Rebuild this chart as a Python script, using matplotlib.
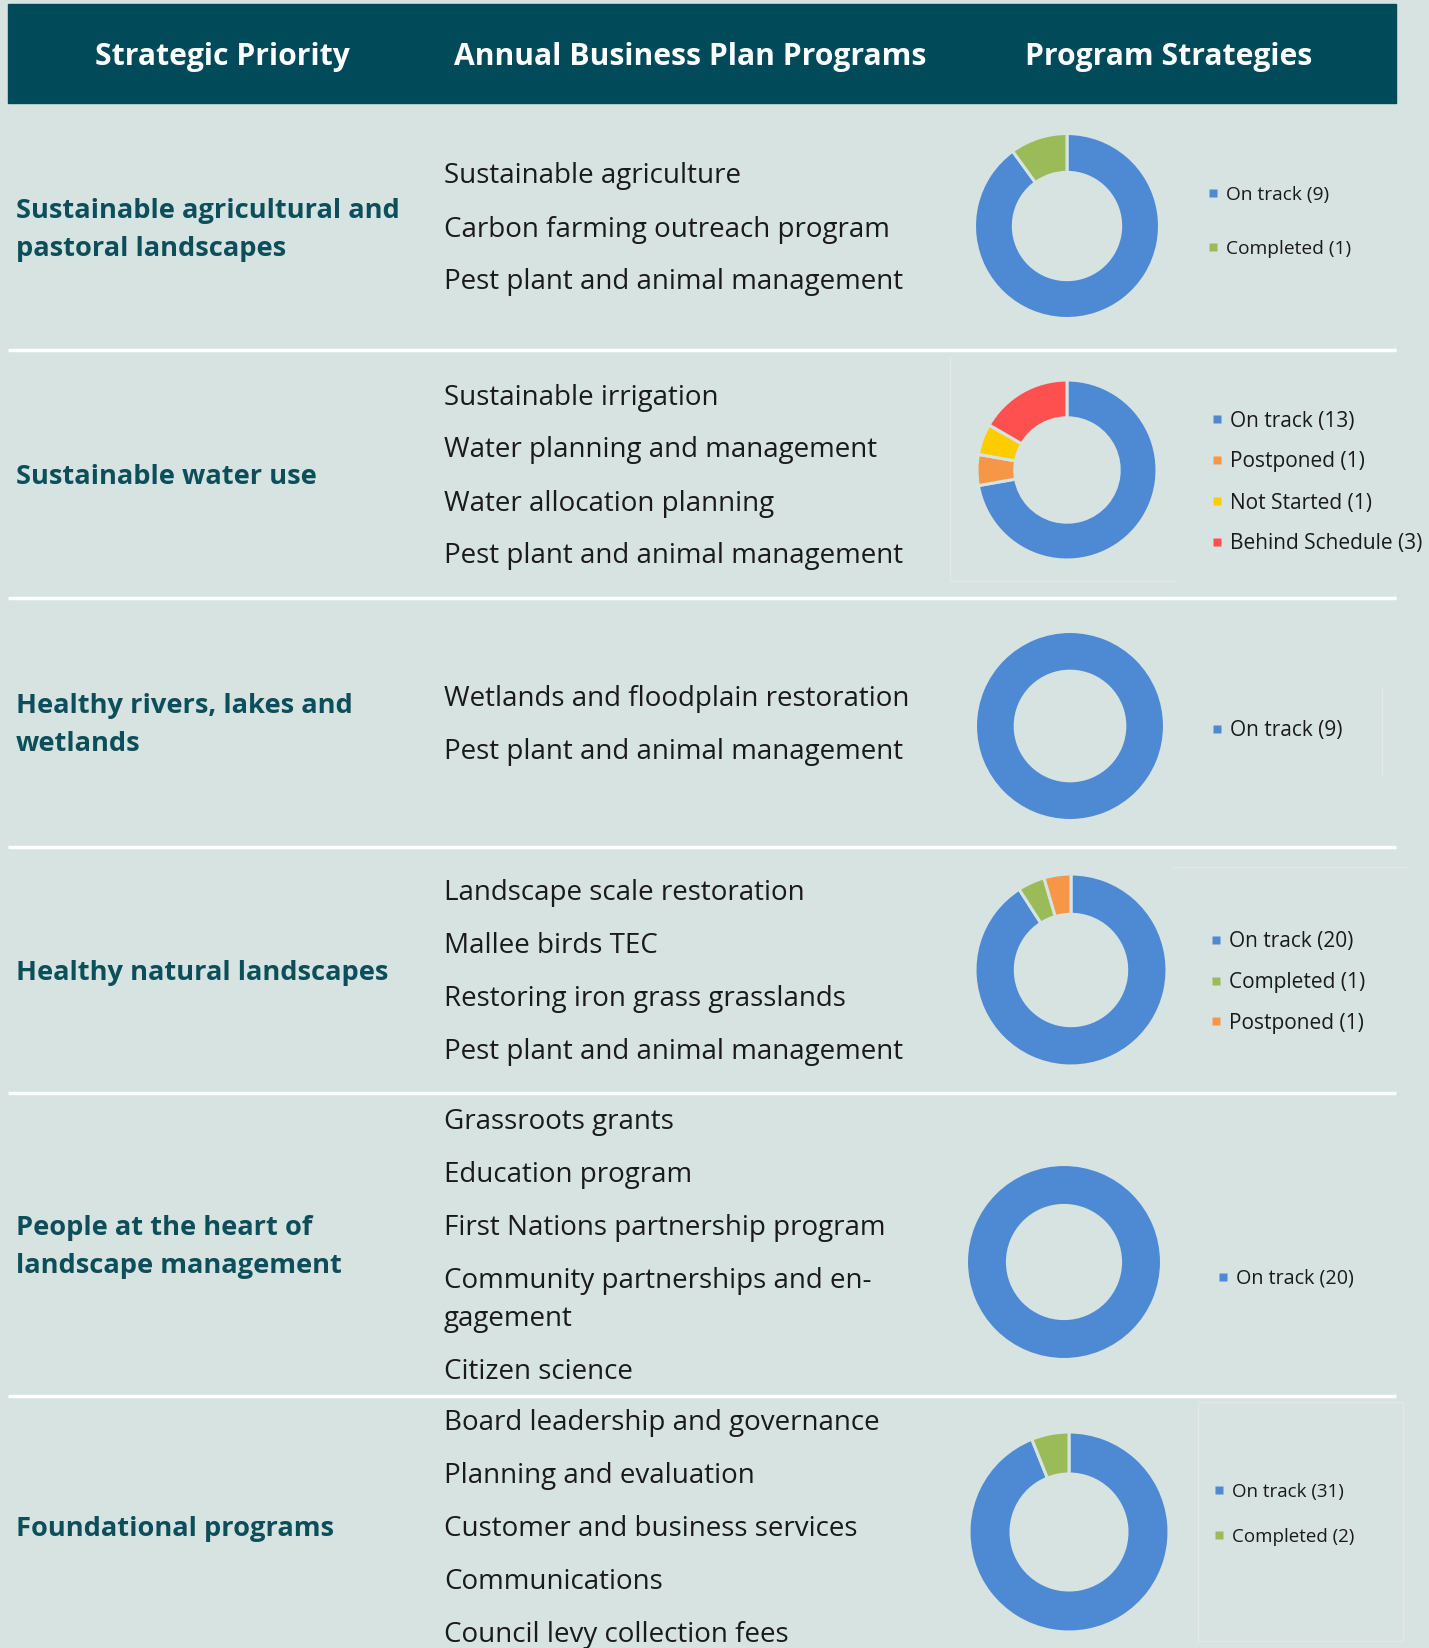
import matplotlib.pyplot as plt
from matplotlib.patches import Rectangle

plt.rcParams['font.family'] = ['Open Sans', 'DejaVu Sans']

W, H = 1429, 1649
BG = '#d6e3e0'
HEADER = '#004a59'
TEAL = '#0d4e5b'
TEXT = '#1a1a1a'
FAINT = '#e2e8e7'

headers = ['Strategic Priority', 'Annual Business Plan Programs', 'Program Strategies']

priorities = ['Sustainable agricultural and\npastoral landscapes',
              'Sustainable water use',
              'Healthy rivers, lakes and\nwetlands',
              'Healthy natural landscapes',
              'People at the heart of\nlandscape management',
              'Foundational programs']

programs = [
    ['Sustainable agriculture', 'Carbon farming outreach program',
     'Pest plant and animal management'],
    ['Sustainable irrigation', 'Water planning and management',
     'Water allocation planning', 'Pest plant and animal management'],
    ['Wetlands and floodplain restoration', 'Pest plant and animal management'],
    ['Landscape scale restoration', 'Mallee birds TEC',
     'Restoring iron grass grasslands', 'Pest plant and animal management'],
    ['Grassroots grants', 'Education program', 'First Nations partnership program',
     'Community partnerships and en-\ngagement', 'Citizen science'],
    ['Board leadership and governance', 'Planning and evaluation',
     'Customer and business services', 'Communications', 'Council levy collection fees'],
]

status_labels = [
    ['On track', 'Completed'],
    ['On track', 'Postponed', 'Not Started', 'Behind Schedule'],
    ['On track'],
    ['On track', 'Completed', 'Postponed'],
    ['On track'],
    ['On track', 'Completed'],
]
status_counts = [[9, 1], [13, 1, 1, 3], [9], [20, 1, 1], [20], [31, 2]]

status_colors = {'On track': '#4e8ad4', 'Completed': '#9bbb59', 'Postponed': '#f79646',
                 'Not Started': '#ffcc00', 'Behind Schedule': '#ff5050'}

# layout (pixels, y from top)
row_edges = [104, 351, 599, 848, 1094, 1397, 1657]
donut_cx = [1067, 1067, 1070, 1071, 1064, 1069]
donut_cy = [227, 471, 727, 971, 1263, 1533]
donut_r = [92.5, 90, 94.5, 96, 97.5, 100]
legend_x = [1213, 1217, 1217, 1216, 1223, 1219]
legend_y0 = [194, 420, 730, 941, 1278, 1491]
legend_step = [54, 41, 0, 40.5, 0, 45]
legend_fs = [13.8, 15, 15, 15, 14.2, 13.5]

fig = plt.figure(figsize=(W / 100, H / 100), dpi=100, facecolor=BG)
bg = fig.add_axes([0, 0, 1, 1])
bg.set_xlim(0, W)
bg.set_ylim(H, 0)
bg.axis('off')

# header band
bg.add_patch(Rectangle((8, 5), 1388, 99, color=HEADER, zorder=1))
for x, t in zip([222, 690, 1169], headers):
    bg.text(x, 57, t, color='white', fontsize=21.7, fontweight='bold',
            ha='center', va='center', zorder=2)

# faint chart-area borders left over from the source
bg.plot([950, 950, 1177], [357, 582, 582], color=FAINT, lw=1)
bg.plot([1382, 1382], [689, 778], color=FAINT, lw=1)
bg.plot([1173, 1407], [868, 868], color=FAINT, lw=1)
bg.add_patch(Rectangle((1198, 1403), 205, 239, fill=False, ec=FAINT, lw=1))

# separators
for y in row_edges[1:-1]:
    bg.plot([8, 1396], [y, y], color='white', lw=2.5, solid_capstyle='butt')

for i in range(len(priorities)):
    mid = (row_edges[i] + row_edges[i + 1]) / 2

    # strategic priority label
    lines = priorities[i].split('\n')
    for k, ln in enumerate(lines):
        y = mid + 2 + (k - (len(lines) - 1) / 2) * 38
        bg.text(16, y, ln, color=TEAL, fontsize=19.6, fontweight='bold',
                ha='left', va='center')

    # program list
    items = programs[i]
    extra = sum(p.count('\n') for p in items)
    block = (len(items) - 1) * 53 + extra * 38
    y = mid - block / 2 + 2
    for p in items:
        for k, ln in enumerate(p.split('\n')):
            bg.text(444, y, ln, color=TEXT, fontsize=20, ha='left', va='center')
            if k < p.count('\n'):
                y += 38
        y += 53

    # donut
    cx, cy, r = donut_cx[i], donut_cy[i], donut_r[i]
    ax = fig.add_axes([(cx - r) / W, 1 - (cy + r) / H, 2 * r / W, 2 * r / H])
    cols = [status_colors[s] for s in status_labels[i]]
    ax.pie(status_counts[i], colors=cols, startangle=90, counterclock=False, radius=1,
           wedgeprops=dict(width=0.42, edgecolor=BG, linewidth=2.2))
    ax.set_xlim(-1, 1)
    ax.set_ylim(-1, 1)
    ax.axis('off')

    # legend
    for k, (s, n) in enumerate(zip(status_labels[i], status_counts[i])):
        ly = legend_y0[i] + k * legend_step[i]
        bg.plot(legend_x[i], ly, marker='s', ms=6, color=status_colors[s], mec='none')
        bg.text(legend_x[i] + 13, ly + 1, f'{s} ({n})', color=TEXT, fontsize=legend_fs[i],
                ha='left', va='center')

fig.savefig('out.png', dpi=100, facecolor=BG)
